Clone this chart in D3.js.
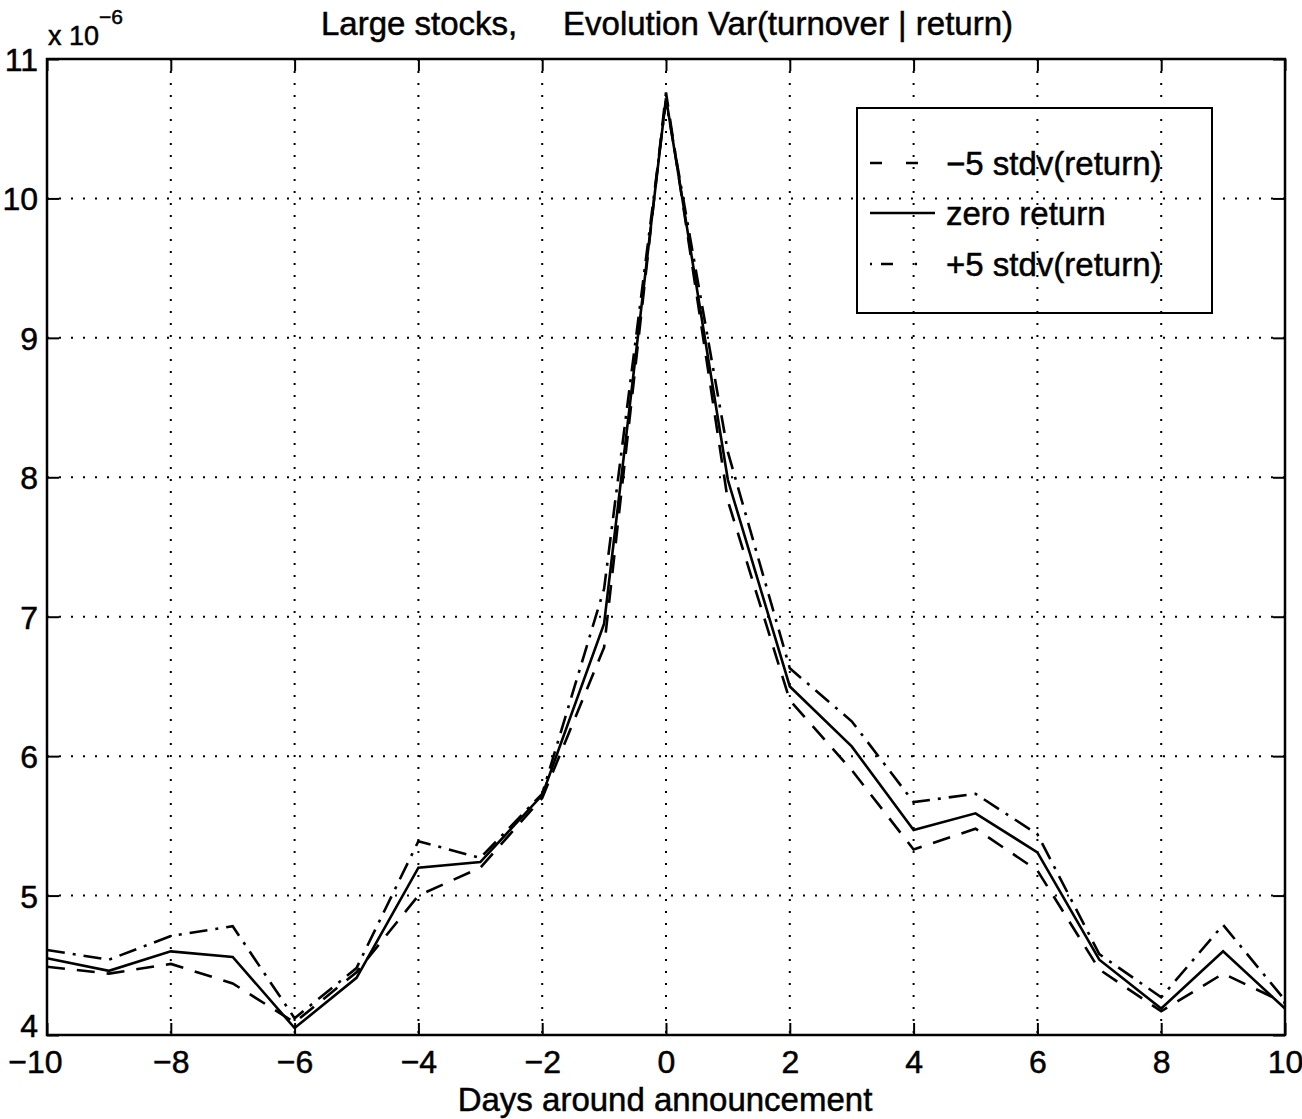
<!DOCTYPE html>
<html>
<head>
<meta charset="utf-8">
<script src="https://cdn.jsdelivr.net/npm/d3@7/dist/d3.min.js"></script>
<style>
  html, body { margin: 0; padding: 0; background: #fff; }
  svg text { font-family: "Liberation Sans", Arial, Helvetica, sans-serif; fill: #000; stroke: #000; stroke-width: 0.5px; }
</style>
</head>
<body>
<svg id="chart" width="1302" height="1119"></svg>
<script>
const days = [-10,-9,-8,-7,-6,-5,-4,-3,-2,-1,0,1,2,3,4,5,6,7,8,9,10];
const minus5 = [4.49,4.44,4.51,4.37,4.09,4.45,5.00,5.20,5.70,6.78,10.76,7.83,6.40,5.90,5.33,5.48,5.18,4.47,4.17,4.44,4.23];
const zero   = [4.55,4.46,4.60,4.56,4.05,4.41,5.20,5.24,5.72,6.95,10.72,7.98,6.50,6.07,5.47,5.59,5.31,4.54,4.19,4.60,4.19];
const plus5  = [4.61,4.54,4.71,4.78,4.12,4.48,5.39,5.27,5.73,7.20,10.70,8.18,6.63,6.25,5.67,5.73,5.44,4.58,4.27,4.79,4.25];
const xTicks = [-10,-8,-6,-4,-2,0,2,4,6,8,10];
const yTicks = [4,5,6,7,8,9,10,11];
const seriesNames = ["\u22125 stdv(return)", "zero return", "+5 stdv(return)"];
const titleText = "Large stocks,     Evolution Var(turnover | return)";
const xLabel = "Days around announcement";

const dashStyles = ["18,12", null, "18,8,3,8"];
const legendDash = ["12,24", null, "2,9,12,22"];
const seriesData = [minus5, zero, plus5];

const svg = d3.select("#chart");
const L = 47, R = 1285, T = 59, B = 1035;
const x = d3.scaleLinear().domain([-10, 10]).range([L, R]);
const y = d3.scaleLinear().domain([4, 11]).range([B, T]);

// gridlines
const grid = svg.append("g");
grid.selectAll("line.vx").data(xTicks.slice(1, -1)).join("line")
  .attr("x1", d => x(d)).attr("x2", d => x(d)).attr("y1", T).attr("y2", B)
  .attr("stroke", "#000").attr("stroke-width", 2).attr("stroke-dasharray", "2,10");
grid.selectAll("line.hy").data(yTicks.slice(1, -1)).join("line")
  .attr("y1", d => y(d)).attr("y2", d => y(d)).attr("x1", L).attr("x2", R)
  .attr("stroke", "#000").attr("stroke-width", 2).attr("stroke-dasharray", "2,10");

// axes with inward ticks
const tickLen = 12;
const axB = svg.append("g").attr("transform", `translate(0,${B})`)
  .call(d3.axisBottom(x).tickValues(xTicks).tickSizeInner(-tickLen).tickSizeOuter(0).tickPadding(15));
const axT = svg.append("g").attr("transform", `translate(0,${T})`)
  .call(d3.axisTop(x).tickValues(xTicks).tickSizeInner(-tickLen).tickSizeOuter(0).tickFormat(""));
const axL = svg.append("g").attr("transform", `translate(${L},0)`)
  .call(d3.axisLeft(y).tickValues(yTicks).tickSizeInner(-tickLen).tickSizeOuter(0).tickPadding(9).tickFormat(d3.format("d")));
const axR = svg.append("g").attr("transform", `translate(${R},0)`)
  .call(d3.axisRight(y).tickValues(yTicks).tickSizeInner(-tickLen).tickSizeOuter(0).tickFormat(""));
[axB, axT, axL, axR].forEach(g => {
  g.select(".domain").remove();
  g.selectAll(".tick line").attr("stroke", "#000").attr("stroke-width", 2);
  g.selectAll("text").attr("font-size", 32).attr("font-family", "Liberation Sans, Arial, sans-serif").attr("fill", "#000");
});
axB.selectAll("text").attr("dy", "0.71em");
axB.selectAll("text").filter(d => d === -10).attr("dx", -12);
axL.selectAll("text").attr("dy", "0.36em");
axL.selectAll("text").filter(d => d === 4).attr("dy", "0.05em");

// frame
svg.append("rect").attr("x", L).attr("y", T).attr("width", R - L).attr("height", B - T)
  .attr("fill", "none").attr("stroke", "#000").attr("stroke-width", 2.5);

// lines
const line = d3.line().x((d, i) => x(days[i])).y(d => y(d));
seriesData.forEach((s, k) => {
  svg.append("path").datum(s).attr("d", line)
    .attr("fill", "none").attr("stroke", "#000").attr("stroke-width", 2.6)
    .attr("stroke-linejoin", "miter")
    .attr("stroke-dasharray", dashStyles[k]);
});

// exponent label
const ex = svg.append("text").attr("x", 48).attr("y", 45).attr("font-size", 27);
ex.append("tspan").text("x 10");
ex.append("tspan").attr("dy", -21).attr("font-size", 21).text("\u22126");

// title
svg.append("text").attr("x", 667).attr("y", 35).attr("text-anchor", "middle")
  .attr("font-size", 33).style("white-space", "pre").attr("xml:space", "preserve").text(titleText);

// x label
svg.append("text").attr("x", 665).attr("y", 1111).attr("text-anchor", "middle")
  .attr("font-size", 33).text(xLabel);

// legend (transparent box: grid shows through)
const lg = svg.append("g");
lg.append("rect").attr("x", 857).attr("y", 108).attr("width", 355).attr("height", 205)
  .attr("fill", "none").attr("stroke", "#000").attr("stroke-width", 2);
const legY = [163, 213, 264];
const legX2 = [935, 935, 925];
seriesNames.forEach((name, k) => {
  lg.append("line").attr("x1", 870).attr("x2", legX2[k]).attr("y1", legY[k]).attr("y2", legY[k])
    .attr("stroke", "#000").attr("stroke-width", 2.6).attr("stroke-dasharray", legendDash[k]);
  lg.append("text").attr("x", 946).attr("y", legY[k]).attr("dy", "0.36em")
    .attr("font-size", 33).text(name);
});
</script>
</body>
</html>
